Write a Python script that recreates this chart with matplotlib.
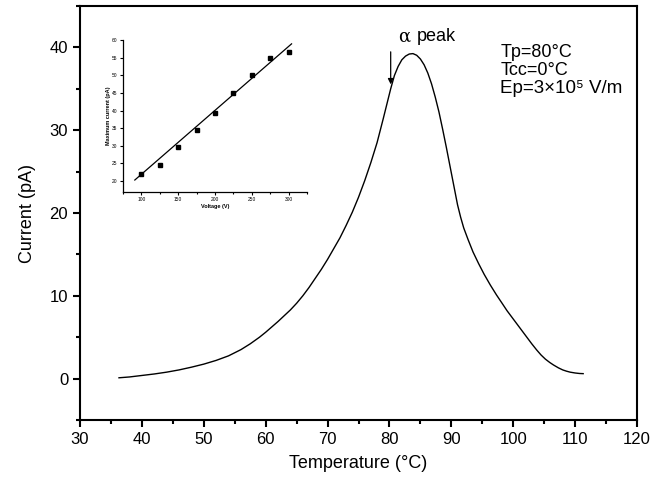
import matplotlib
matplotlib.use("Agg")
import matplotlib.pyplot as plt
from matplotlib.ticker import MultipleLocator

plt.rcParams["font.family"] = ["Liberation Sans", "DejaVu Sans"]

# main curve: current vs temperature
temperature = [36.3, 38.0, 40.0, 42.0, 44.0, 46.0, 48.0, 50.0, 52.0, 54.0, 56.0,
               57.5, 59.0, 60.0, 61.0, 62.0, 63.0, 64.0, 65.0, 66.0, 67.0,
               68.0, 69.0, 70.0, 71.0, 72.0, 73.0, 74.0, 75.0, 76.0, 77.0,
               78.0, 79.0, 79.6, 80.2, 80.8, 81.4, 82.0, 82.6, 83.2, 83.8,
               84.4, 85.0, 85.6, 86.2, 86.8, 87.4, 88.0, 88.6, 89.2, 89.8,
               90.4, 91.0, 91.5, 92.0, 92.7, 93.5, 94.4, 95.3, 96.3, 97.3,
               98.2, 99.0, 99.8, 100.5, 101.4, 102.2, 103.0, 103.8, 104.5, 105.2,
               105.9, 106.5, 107.3, 108.0, 108.6, 109.2, 110.0, 110.7, 111.3]
current = [0.1, 0.2, 0.38, 0.56, 0.78, 1.05, 1.38, 1.75, 2.2, 2.75, 3.5,
           4.2, 5.0, 5.6, 6.25, 6.9, 7.6, 8.3, 9.1, 10.0, 11.0,
           12.1, 13.2, 14.4, 15.7, 17.0, 18.5, 20.1, 21.9, 23.9, 26.1,
           28.5, 31.4, 33.2, 35.0, 36.6, 37.7, 38.5, 38.95, 39.2, 39.25,
           39.05, 38.6, 37.9, 36.9, 35.6, 34.0, 32.2, 30.1, 27.9, 25.6,
           23.3, 21.0, 19.5, 18.2, 16.8, 15.3, 13.9, 12.6, 11.3, 10.1,
           9.1, 8.2, 7.4, 6.7, 5.8, 5.0, 4.2, 3.45, 2.85, 2.35,
           1.95, 1.65, 1.3, 1.05, 0.9, 0.78, 0.68, 0.62, 0.6]

# inset: maximum current vs voltage
voltage = [100, 125, 150, 175, 200, 225, 250, 275, 300]
max_current = [22.0, 24.6, 29.6, 34.6, 39.3, 45.0, 50.0, 55.0, 56.6]
fit_voltage = [91, 304]
fit_current = [20.3, 58.9]

fig = plt.figure(figsize=(6.51, 4.84), dpi=100)
ax = fig.add_axes([0.1229, 0.1322, 0.8556, 0.8554])
ax.plot(temperature, current, color="black", linewidth=1.0)
ax.set_xlim(30, 120)
ax.set_ylim(-5, 45)
ax.xaxis.set_major_locator(MultipleLocator(10))
ax.xaxis.set_minor_locator(MultipleLocator(5))
ax.yaxis.set_major_locator(MultipleLocator(10))
ax.yaxis.set_minor_locator(MultipleLocator(5))
ax.tick_params(which="both", direction="out", top=False, right=False,
               width=1.5, labelsize=12)
ax.tick_params(which="major", length=5)
ax.tick_params(which="minor", length=3)
for spine in ax.spines.values():
    spine.set_linewidth(1.5)
ax.set_xlabel("Temperature (°C)", fontsize=13, labelpad=6)
ax.set_ylabel("Current (pA)", fontsize=13, labelpad=10)

ax.annotate("", xy=(80.2, 35.2), xytext=(80.2, 39.8),
            arrowprops=dict(arrowstyle="-|>", color="black", lw=0.9,
                            mutation_scale=8))
ax.text(81.4, 41.3, "α", fontsize=13, va="center", ha="left",
        family=["DejaVu Serif", "Liberation Sans"])
ax.text(84.4, 41.3, "peak", fontsize=13, va="center", ha="left")
ax.text(97.9, 39.4, "Tp=80°C", fontsize=13, va="center", ha="left")
ax.text(97.9, 37.2, "Tcc=0°C", fontsize=13, va="center", ha="left")
ax.text(97.9, 35.0, "Ep=3×10⁵ V/m", fontsize=13.5, va="center", ha="left",
        family=["Liberation Sans", "DejaVu Sans"])

# inset
ins = fig.add_axes([0.189, 0.604, 0.2826, 0.3134])
ins.plot(voltage, max_current, "s", color="black", markersize=3.4)
ins.plot(fit_voltage, fit_current, color="black", linewidth=0.9)
ins.set_xlim(75, 325)
ins.set_ylim(17, 60)
ins.xaxis.set_major_locator(MultipleLocator(50))
ins.xaxis.set_minor_locator(MultipleLocator(25))
ins.yaxis.set_major_locator(MultipleLocator(5))
ins.spines["top"].set_visible(False)
ins.spines["right"].set_visible(False)
for s in ("left", "bottom"):
    ins.spines[s].set_linewidth(0.9)
ins.tick_params(which="both", direction="out", width=0.8, labelsize=3.5, pad=1.5)
ins.tick_params(which="major", length=2.5)
ins.tick_params(which="minor", length=1.5)
ins.set_xlabel("Voltage (V)", fontsize=4, fontweight="bold", labelpad=1)
ins.set_ylabel("Maximum current (pA)", fontsize=4, fontweight="bold", labelpad=1)

fig.savefig("out.png", dpi=100)
